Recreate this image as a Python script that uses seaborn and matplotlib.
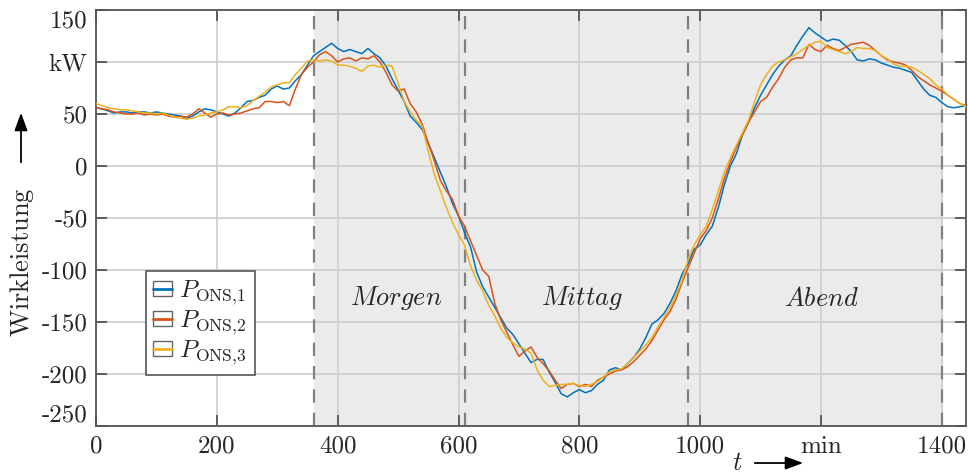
import numpy as np
import pandas as pd
import matplotlib
matplotlib.use("Agg")
import matplotlib.pyplot as plt
import seaborn as sns
from matplotlib.patches import Rectangle, FancyArrowPatch
from matplotlib.lines import Line2D

# ---------------- data (10-min steps) ----------------
t_min = list(range(0, 1441, 10))

p_ons1 = [56, 55, 53, 51, 52, 52, 51, 52, 52, 51, 52, 51, 50, 49, 48, 46, 48, 52, 55, 54,
          52, 50, 48, 51, 56, 62, 63, 66, 68, 74, 77, 74, 75, 82, 88, 97, 106, 110, 114, 118,
          113, 110, 112, 110, 108, 113, 108, 104, 96, 84, 73, 62, 48, 42, 35, 22, 8, -6, -20, -36,
          -48, -64, -78, -102, -116, -126, -136, -146, -156, -162, -171, -180, -189, -186, -186, -198, -208, -219, -222, -218,
          -215, -218, -216, -210, -206, -196, -194, -196, -190, -184, -176, -165, -152, -148, -142, -132, -120, -104, -94, -80,
          -76, -66, -58, -40, -18, 0, 12, 30, 42, 56, 68, 78, 88, 96, 102, 106, 116, 125, 133, 128,
          124, 120, 122, 121, 116, 110, 102, 101, 103, 102, 99, 97, 95, 94, 92, 90, 82, 74, 68, 66,
          61, 57, 56, 57, 58]

p_ons2 = [56, 55, 54, 52, 51, 50, 50, 51, 49, 50, 49, 50, 48, 47, 48, 47, 50, 55, 51, 47,
          50, 51, 49, 50, 51, 53, 55, 56, 62, 62, 61, 62, 58, 74, 88, 95, 100, 107, 110, 106,
          100, 103, 104, 101, 104, 103, 106, 100, 90, 78, 72, 74, 60, 52, 40, 22, 5, -14, -24, -32,
          -48, -58, -72, -86, -100, -106, -132, -148, -160, -172, -183, -178, -174, -184, -190, -197, -206, -214, -210, -209,
          -212, -210, -212, -206, -203, -200, -197, -196, -193, -188, -182, -176, -168, -158, -148, -140, -128, -112, -98, -84,
          -70, -62, -50, -32, -12, 4, 18, 30, 42, 52, 62, 66, 76, 84, 95, 102, 104, 104, 117, 112,
          110, 116, 113, 111, 114, 117, 118, 119, 116, 111, 106, 102, 100, 99, 97, 92, 86, 82, 78, 75,
          72, 68, 64, 60, 58]

p_ons3 = [60, 58, 56, 55, 54, 54, 53, 52, 51, 51, 50, 51, 49, 47, 46, 45, 46, 48, 49, 51,
          52, 54, 57, 57, 56, 58, 63, 67, 71, 76, 78, 80, 80, 88, 94, 101, 102, 101, 102, 101,
          97, 97, 96, 94, 91, 96, 97, 95, 97, 96, 80, 62, 52, 44, 38, 14, -8, -24, -40, -54,
          -66, -76, -96, -110, -120, -134, -144, -156, -165, -170, -174, -176, -180, -196, -206, -212, -211, -210, -210, -209,
          -211, -212, -210, -207, -203, -198, -196, -195, -190, -184, -178, -172, -165, -155, -146, -136, -124, -110, -90, -76,
          -66, -58, -42, -24, -6, 8, 20, 32, 44, 62, 78, 88, 96, 100, 102, 105, 108, 112, 116, 119,
          120, 114, 112, 110, 108, 110, 114, 113, 113, 111, 106, 103, 98, 96, 96, 95, 92, 88, 84, 78,
          74, 68, 64, 60, 57]

series_names = [r"$P_{\mathrm{ONS},\!1}$", r"$P_{\mathrm{ONS},\!2}$", r"$P_{\mathrm{ONS},\!3}$"]
colors = ["#0072BD", "#D95319", "#EDB120"]

x_ticks = [0, 200, 400, 600, 800, 1000, 1200, 1400]
x_ticklabels = ["0", "200", "400", "600", "800", "1000", "min", "1400"]
y_ticks = [150, 100, 50, 0, -50, -100, -150, -200, -250]
y_ticklabels = ["150", "kW", "50", "0", "-50", "-100", "-150", "-200", "-250"]

phase_bounds = [360, 610, 980, 1400]
phase_names = ["$Morgen$", "$Mittag$", "$Abend$"]
phase_label_x = [497, 805, 1200]
phase_label_y = -127

# ---------------- build frame ----------------
df = pd.DataFrame({
    "t": t_min * 3,
    "P": p_ons1 + p_ons2 + p_ons3,
    "series": [series_names[0]] * len(t_min) + [series_names[1]] * len(t_min) + [series_names[2]] * len(t_min),
})

sns.set_theme(style="white")
plt.rcParams["mathtext.fontset"] = "cm"
plt.rcParams["font.family"] = ["DejaVu Serif"]
plt.rcParams["axes.unicode_minus"] = False

fig = plt.figure(figsize=(9.68, 4.75), dpi=100)
ax = fig.add_axes([96 / 968, 1 - 426 / 475, 870 / 968, 416 / 475])

ax.axvspan(phase_bounds[0], phase_bounds[-1], color="#ebebeb", zorder=0, lw=0)

sns.lineplot(data=df, x="t", y="P", hue="series", palette=colors, ax=ax,
             linewidth=1.1, legend=False, zorder=3)

for b in phase_bounds:
    ax.axvline(b, color="#808080", lw=1.6, ls=(0, (6, 4.5)), zorder=2)

for name, xx in zip(phase_names, phase_label_x):
    ax.text(xx, phase_label_y, name, ha="center", va="center", fontsize=19, color="#262626", zorder=4)

ax.set_xlim(0, 1440)
ax.set_ylim(-250, 150)
ax.set_xticks(x_ticks)
ax.set_xticklabels(x_ticklabels, fontsize=18, color="#262626", fontfamily="cmr10")
ax.set_yticks(y_ticks)
ax.set_yticklabels(y_ticklabels, fontsize=18, color="#262626", fontfamily="cmr10")
yl = ax.get_yticklabels()
yl[0].set_va("top")
yl[-1].set_va("bottom")
ax.set_xlabel("")
ax.set_ylabel("")

ax.grid(True, color="#cfcfcf", lw=1.3)
ax.set_axisbelow(True)
for s in ax.spines.values():
    s.set_visible(True)
    s.set_color("#555555")
    s.set_linewidth(1.3)
ax.tick_params(direction="in", length=8, width=1.3, color="#555555",
               top=True, right=True, left=True, bottom=True, labeltop=False, labelright=False)
ax.tick_params(axis="x", pad=7)
ax.tick_params(axis="y", pad=6)

# legend with box-style handles
handles = []
for c in colors:
    box = Rectangle((0, 0), 1, 1, facecolor="white", edgecolor="#666666", lw=1.0)
    ln = Line2D([], [], color=c, lw=2.0)
    handles.append((box, ln))
leg = ax.legend(handles, series_names, loc="lower left", bbox_to_anchor=(0.057, 0.123),
                borderaxespad=0, fontsize=18, handlelength=0.75, handleheight=0.55,
                handletextpad=0.3, labelspacing=0.05, borderpad=0.3, fancybox=False,
                framealpha=1, edgecolor="#555555")
leg.get_frame().set_linewidth(1.2)

# axis labels with arrows
fig.text(22 / 968, 1 - 262 / 475, r"$\mathrm{Wirkleistung}$", rotation=90, ha="center", va="center",
         fontsize=19, color="#262626")
fig.add_artist(FancyArrowPatch(
    (21 / 968, 1 - 165 / 475), (21 / 968, 1 - 110 / 475), transform=fig.transFigure,
    arrowstyle="-|>,head_length=0.6,head_width=0.22", mutation_scale=18, color="black", lw=1.3))
fig.text(737 / 968, 1 - 462 / 475, "$t$", ha="center", va="center", fontsize=19, color="#262626")
fig.add_artist(FancyArrowPatch(
    (752 / 968, 1 - 463 / 475), (806 / 968, 1 - 463 / 475), transform=fig.transFigure,
    arrowstyle="-|>,head_length=0.6,head_width=0.22", mutation_scale=18, color="black", lw=1.3))

fig.savefig("out.png", dpi=100, facecolor="white")
